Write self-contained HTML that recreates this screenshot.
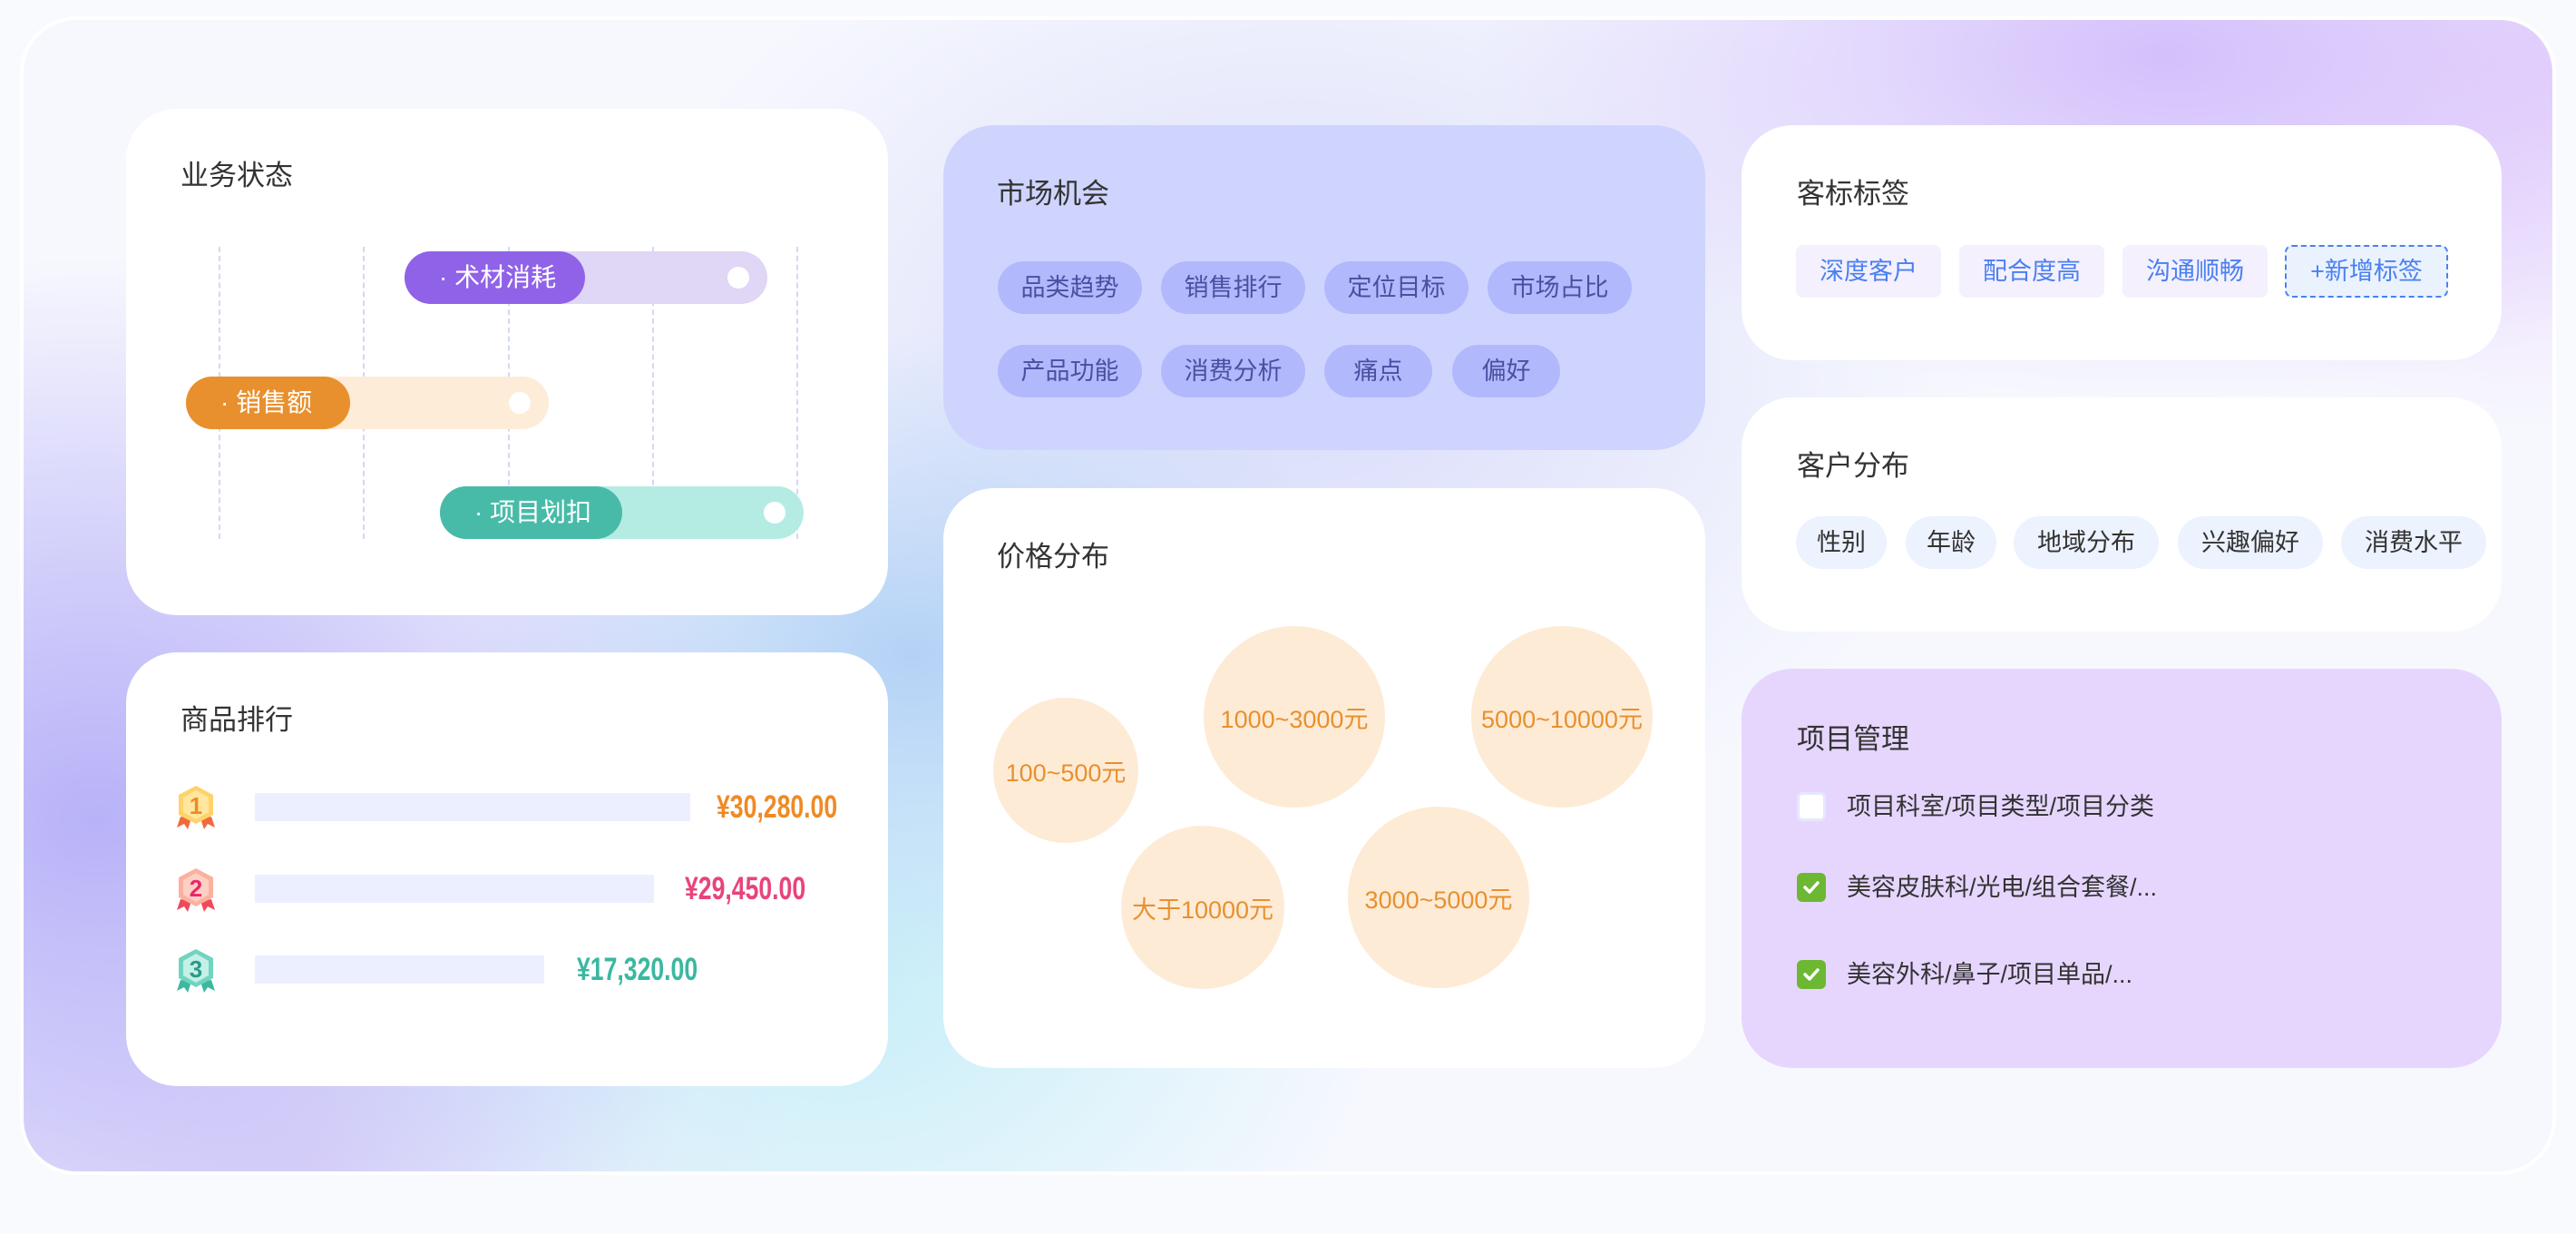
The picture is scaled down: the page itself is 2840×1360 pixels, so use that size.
<!DOCTYPE html>
<html><head><meta charset="utf-8"><style>
*{margin:0;padding:0;box-sizing:border-box}
body{width:2840px;height:1360px;background:#f9fafe;position:relative;overflow:hidden;font-family:"Liberation Sans","Noto Sans CJK SC",sans-serif;color:#333}
.panel{position:absolute;left:22px;top:18px;width:2796px;height:1277px;border-radius:62px;border:4px solid #fff;overflow:hidden;
background:
radial-gradient(ellipse 760px 620px at 80px 880px,#b8b2f8 0%,rgba(184,178,248,0.6) 45%,rgba(184,178,248,0) 100%),
radial-gradient(ellipse 520px 360px at 980px 700px,#b4d2f6 0%,rgba(180,210,246,0) 100%),
radial-gradient(ellipse 620px 480px at 900px 1050px,#c6eef8 0%,rgba(198,238,248,0) 100%),
radial-gradient(ellipse 760px 380px at 2360px 40px,#d4c0fc 0%,rgba(212,192,252,0) 100%),
radial-gradient(ellipse 560px 400px at 2790px 60px,#ecd8fc 0%,rgba(236,216,252,0) 100%),
radial-gradient(ellipse 760px 560px at 1400px 380px,#d8dcfa 0%,rgba(216,220,250,0) 100%),
radial-gradient(ellipse 560px 320px at 300px 1260px,#e0daf8 0%,rgba(224,218,248,0) 100%),
#f7f8fe}
.card{position:absolute;border-radius:56px;background:#fff}
.t{position:absolute;font-size:31px;color:#333;line-height:40px}
.abs{position:absolute}
.vl{position:absolute;top:272px;height:322px;border-left:2px dashed #d2d8f8}
.bar{position:absolute;height:58px;border-radius:29px}
.bar .d{position:absolute;left:0;top:0;height:58px;border-radius:29px;color:#fff;font-size:28px;line-height:58px;padding-left:38px}
.bar .dot{position:absolute;width:24px;height:24px;border-radius:12px;background:#fff;top:17px}
.tag{position:absolute;height:58px;line-height:58px;text-align:center;font-size:27px}
.circ{position:absolute;border-radius:50%;background:#feebd6;color:#e8902e;font-size:27px;display:flex;align-items:center;justify-content:center}
.val{position:absolute;font-family:"Liberation Sans Narrow","Liberation Sans",sans-serif;font-weight:bold;font-size:35px;line-height:40px;transform:scaleX(0.76);transform-origin:left center}
.rb{position:absolute;left:281px;height:31px;background:#ecefff}
.cb{position:absolute;left:1981px;width:32px;height:32px;border-radius:6px}
.ct{position:absolute;left:2036px;font-size:27px;line-height:40px;color:#333}
</style></head><body>
<div class="panel"></div>

<!-- 业务状态 -->
<div class="card" style="left:139px;top:120px;width:840px;height:558px"></div>
<div class="t" style="left:199px;top:174px">业务状态</div>
<div class="vl" style="left:241px"></div><div class="vl" style="left:400px"></div><div class="vl" style="left:560px"></div><div class="vl" style="left:719px"></div><div class="vl" style="left:878px"></div>
<div class="bar" style="left:446px;top:277px;width:400px;background:#e0d6f6"><div class="d" style="width:199px;background:#9062e8">·&nbsp;术材消耗</div><div class="dot" style="left:356px"></div></div>
<div class="bar" style="left:205px;top:415px;width:400px;background:#fdecd8"><div class="d" style="width:181px;background:#e8902e">·&nbsp;销售额</div><div class="dot" style="left:356px"></div></div>
<div class="bar" style="left:485px;top:536px;width:401px;background:#b4ece4"><div class="d" style="width:201px;background:#48bba8">·&nbsp;项目划扣</div><div class="dot" style="left:357px"></div></div>

<!-- 商品排行 -->
<div class="card" style="left:139px;top:719px;width:840px;height:478px"></div>
<div class="t" style="left:199px;top:774px">商品排行</div>
<svg class="abs" style="left:193px;top:864px" width="46" height="52" viewBox="0 0 46 52"><path d="M6 36 L2 48 L10 44 L14 50 L18 38Z M40 36 L44 48 L36 44 L32 50 L28 38Z" fill="#f06a3c"/><path d="M23 2 L42 12 L42 34 L23 44 L4 34 L4 12Z" fill="#ffd36a"/><path d="M23 7 L37 15 L37 31 L23 39 L9 31 L9 15Z" fill="#ffe7a0"/><text x="23" y="33" font-size="26" font-weight="bold" text-anchor="middle" fill="#f08a24" font-family="Liberation Sans Narrow,Liberation Sans">1</text></svg>
<svg class="abs" style="left:193px;top:955px" width="46" height="52" viewBox="0 0 46 52"><path d="M6 36 L2 48 L10 44 L14 50 L18 38Z M40 36 L44 48 L36 44 L32 50 L28 38Z" fill="#f04a5a"/><path d="M23 2 L42 12 L42 34 L23 44 L4 34 L4 12Z" fill="#fbb0a0"/><path d="M23 7 L37 15 L37 31 L23 39 L9 31 L9 15Z" fill="#fdd0c4"/><text x="23" y="33" font-size="26" font-weight="bold" text-anchor="middle" fill="#e8286a" font-family="Liberation Sans Narrow,Liberation Sans">2</text></svg>
<svg class="abs" style="left:193px;top:1044px" width="46" height="52" viewBox="0 0 46 52"><path d="M6 36 L2 48 L10 44 L14 50 L18 38Z M40 36 L44 48 L36 44 L32 50 L28 38Z" fill="#3ab8a0"/><path d="M23 2 L42 12 L42 34 L23 44 L4 34 L4 12Z" fill="#70d4c0"/><path d="M23 7 L37 15 L37 31 L23 39 L9 31 L9 15Z" fill="#c4f0e8"/><text x="23" y="33" font-size="26" font-weight="bold" text-anchor="middle" fill="#2a9a88" font-family="Liberation Sans Narrow,Liberation Sans">3</text></svg>
<div class="rb" style="top:874px;width:480px"></div>
<div class="rb" style="top:964px;width:440px"></div>
<div class="rb" style="top:1053px;width:319px"></div>
<div class="val" style="left:790px;top:870px;color:#f08a24">¥30,280.00</div>
<div class="val" style="left:755px;top:960px;color:#e8447a">¥29,450.00</div>
<div class="val" style="left:636px;top:1049px;color:#3ab8a0">¥17,320.00</div>

<!-- 市场机会 -->
<div class="card" style="left:1040px;top:138px;width:840px;height:358px;background:#cfd4fe"></div>
<div class="t" style="left:1099px;top:194px">市场机会</div>
<div class="tag" style="left:1100px;top:288px;width:159px;border-radius:29px;background:#b2b8fc;color:#4a50a0">品类趋势</div>
<div class="tag" style="left:1280px;top:288px;width:159px;border-radius:29px;background:#b2b8fc;color:#4a50a0">销售排行</div>
<div class="tag" style="left:1460px;top:288px;width:159px;border-radius:29px;background:#b2b8fc;color:#4a50a0">定位目标</div>
<div class="tag" style="left:1640px;top:288px;width:159px;border-radius:29px;background:#b2b8fc;color:#4a50a0">市场占比</div>
<div class="tag" style="left:1100px;top:380px;width:159px;border-radius:29px;background:#b2b8fc;color:#4a50a0">产品功能</div>
<div class="tag" style="left:1280px;top:380px;width:159px;border-radius:29px;background:#b2b8fc;color:#4a50a0">消费分析</div>
<div class="tag" style="left:1460px;top:380px;width:119px;border-radius:29px;background:#b2b8fc;color:#4a50a0">痛点</div>
<div class="tag" style="left:1601px;top:380px;width:119px;border-radius:29px;background:#b2b8fc;color:#4a50a0">偏好</div>

<!-- 价格分布 -->
<div class="card" style="left:1040px;top:538px;width:840px;height:639px"></div>
<div class="t" style="left:1099px;top:594px">价格分布</div>
<div class="circ" style="left:1095px;top:769px;width:160px;height:160px">100~500元</div>
<div class="circ" style="left:1327px;top:690px;width:200px;height:200px">1000~3000元</div>
<div class="circ" style="left:1622px;top:690px;width:200px;height:200px">5000~10000元</div>
<div class="circ" style="left:1236px;top:910px;width:180px;height:180px">大于10000元</div>
<div class="circ" style="left:1486px;top:889px;width:200px;height:200px">3000~5000元</div>

<!-- 客标标签 -->
<div class="card" style="left:1920px;top:138px;width:838px;height:259px"></div>
<div class="t" style="left:1981px;top:194px">客标标签</div>
<div class="tag" style="left:1980px;top:270px;width:160px;border-radius:8px;background:#f4f0fe;color:#4a80f0">深度客户</div>
<div class="tag" style="left:2160px;top:270px;width:160px;border-radius:8px;background:#f4f0fe;color:#4a80f0">配合度高</div>
<div class="tag" style="left:2340px;top:270px;width:160px;border-radius:8px;background:#f4f0fe;color:#4a80f0">沟通顺畅</div>
<div class="tag" style="left:2519px;top:270px;width:180px;border-radius:8px;background:#eaf2fe;color:#4a80f0;border:2px dashed #4a80f0;line-height:54px">+新增标签</div>

<!-- 客户分布 -->
<div class="card" style="left:1920px;top:438px;width:838px;height:258px"></div>
<div class="t" style="left:1981px;top:494px">客户分布</div>
<div class="tag" style="left:1980px;top:569px;width:100px;border-radius:29px;background:#ecf2fe;color:#333">性别</div>
<div class="tag" style="left:2101px;top:569px;width:100px;border-radius:29px;background:#ecf2fe;color:#333">年龄</div>
<div class="tag" style="left:2220px;top:569px;width:160px;border-radius:29px;background:#ecf2fe;color:#333">地域分布</div>
<div class="tag" style="left:2401px;top:569px;width:160px;border-radius:29px;background:#ecf2fe;color:#333">兴趣偏好</div>
<div class="tag" style="left:2581px;top:569px;width:160px;border-radius:29px;background:#ecf2fe;color:#333">消费水平</div>

<!-- 项目管理 -->
<div class="card" style="left:1920px;top:737px;width:838px;height:440px;background:#e6d6fe"></div>
<div class="t" style="left:1981px;top:795px">项目管理</div>
<div class="cb" style="top:873px;background:#fff;border:3px solid #e4e8fc"></div>
<div class="ct" style="top:869px">项目科室/项目类型/项目分类</div>
<div class="cb" style="top:962px;background:#6cb832"><svg width="32" height="32"><path d="M9 16 L14 21 L23 11" stroke="#fff" stroke-width="3.5" fill="none" stroke-linecap="round" stroke-linejoin="round"/></svg></div>
<div class="ct" style="top:958px">美容皮肤科/光电/组合套餐/...</div>
<div class="cb" style="top:1058px;background:#6cb832"><svg width="32" height="32"><path d="M9 16 L14 21 L23 11" stroke="#fff" stroke-width="3.5" fill="none" stroke-linecap="round" stroke-linejoin="round"/></svg></div>
<div class="ct" style="top:1054px">美容外科/鼻子/项目单品/...</div>
</body></html>
